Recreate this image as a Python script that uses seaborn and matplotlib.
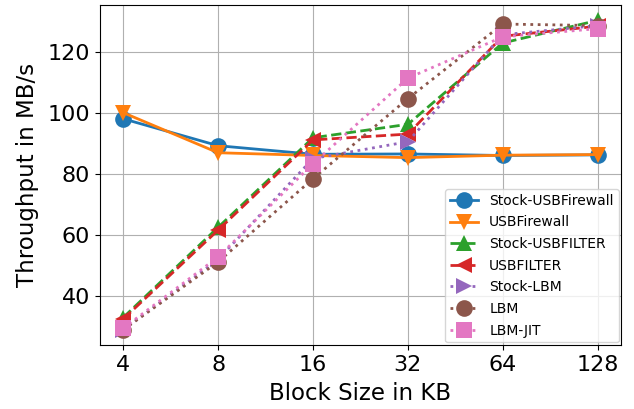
import numpy as np
import pandas as pd
import matplotlib
matplotlib.use("Agg")
import matplotlib.pyplot as plt
import seaborn as sns

block_sizes = ["4", "8", "16", "32", "64", "128"]

stock_usbfirewall = [98.0, 89.2, 86.4, 86.5, 86.0, 86.2]
usbfirewall = [100.0, 86.9, 86.0, 85.3, 86.1, 86.3]
stock_usbfilter = [33.0, 62.5, 91.8, 96.2, 122.8, 130.2]
usbfilter = [32.5, 61.6, 91.1, 93.0, 125.0, 128.3]
stock_lbm = [29.0, 52.0, 85.0, 90.5, 125.5, 128.5]
lbm = [29.0, 51.2, 78.4, 104.6, 129.0, 128.5]
lbm_jit = [29.5, 52.8, 83.3, 111.3, 124.8, 127.5]

series = [
    ("Stock-USBFirewall", stock_usbfirewall, "o", "-"),
    ("USBFirewall", usbfirewall, "v", "-"),
    ("Stock-USBFILTER", stock_usbfilter, "^", "--"),
    ("USBFILTER", usbfilter, "<", "--"),
    ("Stock-LBM", stock_lbm, ">", ":"),
    ("LBM", lbm, "o", ":"),
    ("LBM-JIT", lbm_jit, "s", ":"),
]
colors = sns.color_palette("tab10", 7)

fig, ax = plt.subplots(figsize=(6.34, 4.09), dpi=100)
pos = np.arange(len(block_sizes))

for (name, vals, mk, ls), c in zip(series, colors):
    df = pd.DataFrame({"x": pos, "y": vals})
    sns.lineplot(data=df, x="x", y="y", ax=ax, color=c, marker=mk,
                 markersize=12, markeredgewidth=0, linestyle=ls,
                 linewidth=2, label=name)

ax.set_xticks(pos)
ax.set_xticklabels(block_sizes)
ax.set_yticks([40, 60, 80, 100, 120])
ax.tick_params(labelsize=16)
ax.set_xlabel("Block Size in KB", fontsize=16.5, labelpad=5)
ax.set_ylabel("Throughput in MB/s", fontsize=16.5, labelpad=6)
ax.grid(True, color="#b0b0b0", linewidth=0.8)
ax.legend(loc="lower right", fontsize=10, handlelength=2,
          borderaxespad=0.2, labelspacing=0.55, borderpad=0.35)

fig.subplots_adjust(left=0.157, right=0.98, top=0.988, bottom=0.156)
fig.savefig("out.png", dpi=100)
